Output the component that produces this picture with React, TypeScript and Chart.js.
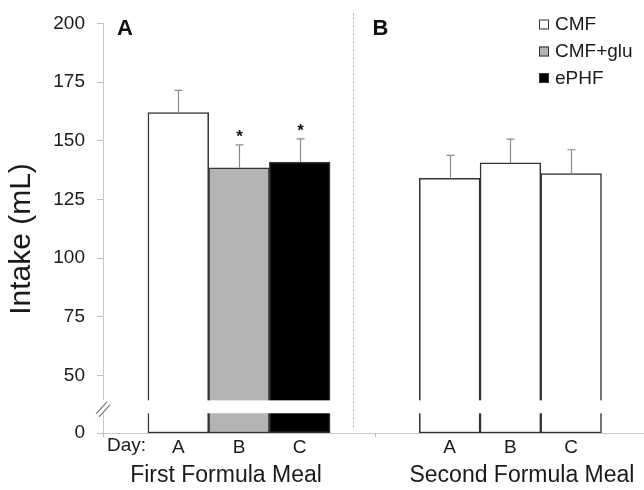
import React, { useEffect, useRef } from 'react';
import { Chart, registerables } from 'chart.js';

Chart.register(...registerables);

// ---------- data ----------
const seriesNames = ['CMF', 'CMF+glu', 'ePHF'];
const seriesColors = ['#ffffff', '#b3b3b3', '#000000'];
const dayLabels = ['A', 'B', 'C'];
const dayPrefix = 'Day:';
const mealLabels = ['First Formula Meal', 'Second Formula Meal'];
const panelLetters = ['A', 'B'];
const firstMealMeans = [162, 138.5, 141];
const firstMealSE = [9.5, 9.8, 9.8];
const firstMealSignificant = [false, true, true];
const secondMealMeans = [134, 140.6, 136.1];
const secondMealSE = [9.8, 10.1, 10.1];
const yTickValues = [0, 50, 75, 100, 125, 150, 175, 200];

// ---------- layout (scale units) ----------
const Y_ZERO = 25.6; // scale position standing in for 0 below the axis break
const BREAK_LOW = 34;
const BREAK_HIGH = 39.5;
const Y_MAX = 200;
const X_MIN = -0.24;
const X_MAX = 8.67;
const PANEL_POS = [
  [1, 2, 3],
  [5.47, 6.47, 7.47],
];
const MEAL_TITLE_POS = [1.786, 6.66];
const DIVIDER_POS = 3.87;
const AXIS_TICK_POS = [X_MIN, 4.24];
const FONT = "'Liberation Sans', Arial, Helvetica, sans-serif";

const toScale = (v: number) => (v === 0 ? Y_ZERO : v);

type BarItem = { x: number; mean: number; se: number; sig: boolean; series: number };

const barItems: BarItem[] = [
  ...firstMealMeans.map((m, i) => ({
    x: PANEL_POS[0][i],
    mean: m,
    se: firstMealSE[i],
    sig: firstMealSignificant[i],
    series: i,
  })),
  ...secondMealMeans.map((m, i) => ({
    x: PANEL_POS[1][i],
    mean: m,
    se: secondMealSE[i],
    sig: false,
    series: 0,
  })),
];

const xTickPositions = [...PANEL_POS[0], ...PANEL_POS[1]];
const xTickLabels = [...dayLabels, ...dayLabels];

const overlayPlugin = {
  id: 'overlay',
  afterDatasetsDraw(chart: any) {
    const { ctx, chartArea, scales } = chart;
    const x = scales.x;
    const y = scales.y;
    ctx.save();

    // error bars + significance marks
    barItems.forEach((b) => {
      const px = Math.round(x.getPixelForValue(b.x)) + 0.5;
      const top = y.getPixelForValue(b.mean);
      const errTop = y.getPixelForValue(b.mean + b.se);
      ctx.strokeStyle = '#8a8a8a';
      ctx.lineWidth = 1.2;
      ctx.beginPath();
      ctx.moveTo(px, top);
      ctx.lineTo(px, errTop);
      ctx.moveTo(px - 4, errTop);
      ctx.lineTo(px + 4, errTop);
      ctx.stroke();
      if (b.sig) {
        ctx.fillStyle = '#111';
        ctx.font = `bold 17px ${FONT}`;
        ctx.textAlign = 'center';
        ctx.textBaseline = 'alphabetic';
        ctx.fillText('*', px, errTop - 3);
      }
    });

    // axis break gap
    const gTop = y.getPixelForValue(BREAK_HIGH);
    const gBot = y.getPixelForValue(BREAK_LOW);
    ctx.fillStyle = '#ffffff';
    ctx.fillRect(chartArea.left - 3, gTop, chartArea.right - chartArea.left + 3, gBot - gTop);

    // break marks
    const L = chartArea.left;
    const mid = (gTop + gBot) / 2;
    ctx.strokeStyle = '#777';
    ctx.lineWidth = 1.2;
    ctx.beginPath();
    ctx.moveTo(L - 7, mid + 7);
    ctx.lineTo(L + 4, mid - 5);
    ctx.moveTo(L - 4, mid + 10);
    ctx.lineTo(L + 7, mid - 2);
    ctx.stroke();

    // dotted divider between panels
    const dx = Math.round(x.getPixelForValue(DIVIDER_POS)) + 0.5;
    ctx.strokeStyle = '#b0b0b0';
    ctx.lineWidth = 1;
    ctx.setLineDash([2, 2]);
    ctx.beginPath();
    ctx.moveTo(dx, chartArea.top - 10);
    ctx.lineTo(dx, chartArea.bottom - 5);
    ctx.stroke();
    ctx.setLineDash([]);

    // small ticks below the category axis
    ctx.strokeStyle = '#bbbbbb';
    ctx.beginPath();
    AXIS_TICK_POS.forEach((p) => {
      const tx = Math.round(x.getPixelForValue(p)) + 0.5;
      ctx.moveTo(tx, chartArea.bottom);
      ctx.lineTo(tx, chartArea.bottom + 4);
    });
    ctx.stroke();
    ctx.restore();
  },
  afterDraw(chart: any) {
    const { ctx, chartArea, scales } = chart;
    const x = scales.x;
    ctx.save();

    // y-axis title
    ctx.fillStyle = '#1a1a1a';
    ctx.font = `30px ${FONT}`;
    ctx.textAlign = 'center';
    ctx.textBaseline = 'middle';
    ctx.translate(22, 239);
    ctx.rotate(-Math.PI / 2);
    ctx.fillText('Intake (mL)', 0, 0);
    ctx.setTransform(1, 0, 0, 1, 0, 0);

    // "Day:" prefix on the category row
    ctx.font = `19px ${FONT}`;
    ctx.textAlign = 'left';
    ctx.textBaseline = 'middle';
    ctx.fillStyle = '#1a1a1a';
    ctx.fillText(dayPrefix, chartArea.left + 4, chartArea.bottom + 13);

    // panel letters
    ctx.font = `bold 22px ${FONT}`;
    ctx.textAlign = 'left';
    ctx.textBaseline = 'alphabetic';
    ctx.fillStyle = '#111';
    ctx.fillText(panelLetters[0], chartArea.left + 14, 35);
    ctx.fillText(panelLetters[1], x.getPixelForValue(DIVIDER_POS) + 20, 35);

    // group titles
    ctx.font = `23px ${FONT}`;
    ctx.textAlign = 'center';
    ctx.textBaseline = 'middle';
    ctx.fillStyle = '#1a1a1a';
    ctx.fillText(mealLabels[0], x.getPixelForValue(MEAL_TITLE_POS[0]), 476);
    ctx.fillText(mealLabels[1], x.getPixelForValue(MEAL_TITLE_POS[1]), 476);

    // legend
    const lx = 539;
    const rows = [24.5, 51.5, 78];
    seriesNames.forEach((name, i) => {
      const cy = rows[i];
      ctx.fillStyle = seriesColors[i];
      ctx.fillRect(lx, cy - 5, 10, 10);
      ctx.strokeStyle = '#333';
      ctx.lineWidth = 1;
      ctx.strokeRect(lx + 0.5, cy - 4.5, 9, 9);
      ctx.fillStyle = '#1a1a1a';
      ctx.font = `19px ${FONT}`;
      ctx.textAlign = 'left';
      ctx.textBaseline = 'middle';
      ctx.fillText(name, lx + 16, cy + 0.5);
    });
    ctx.restore();
  },
};

export default function App() {
  const canvasRef = useRef<HTMLCanvasElement | null>(null);

  useEffect(() => {
    const canvas = canvasRef.current;
    if (!canvas) return;

    const datasets = seriesNames.map((name, s) => ({
      label: name,
      data: barItems
        .filter((b) => b.series === s)
        .map((b) => ({ x: b.x, y: [Y_ZERO, b.mean] })),
      backgroundColor: seriesColors[s],
      borderColor: '#333333',
      borderWidth: 1.5,
      borderSkipped: false,
      grouped: false,
      barPercentage: 1,
      categoryPercentage: 1,
    }));

    const chart = new Chart(canvas, {
      type: 'bar',
      data: { datasets: datasets as any },
      options: {
        responsive: false,
        animation: false,
        devicePixelRatio: 1,
        layout: { padding: { top: 18, left: 0, right: 0, bottom: 0 } },
        plugins: {
          legend: { display: false },
          tooltip: { enabled: false },
          title: { display: false },
        },
        scales: {
          x: {
            type: 'linear',
            offset: false,
            min: X_MIN,
            max: X_MAX,
            afterBuildTicks: (s: any) => {
              s.ticks = xTickPositions.map((v) => ({ value: v }));
            },
            afterFit: (s: any) => {
              s.height = 57;
            },
            ticks: {
              callback: (_v: any, i: number) => xTickLabels[i],
              autoSkip: false,
              maxRotation: 0,
              padding: 3,
              color: '#1a1a1a',
              font: { size: 19, family: FONT },
            },
            grid: { drawOnChartArea: false, drawTicks: false, offset: false },
            border: { color: '#c8c8c8', width: 1 },
          },
          y: {
            type: 'linear',
            min: Y_ZERO,
            max: Y_MAX,
            afterBuildTicks: (s: any) => {
              s.ticks = yTickValues.map((v) => ({ value: toScale(v) }));
            },
            afterFit: (s: any) => {
              s.width = 103;
            },
            ticks: {
              callback: (_v: any, i: number) => String(yTickValues[i]),
              autoSkip: false,
              padding: 12,
              color: '#1a1a1a',
              font: { size: 19, family: FONT },
            },
            grid: { drawOnChartArea: false, drawTicks: true, tickLength: 6, color: '#c0c0c0' },
            border: { color: '#c8c8c8', width: 1 },
          },
        },
      } as any,
      plugins: [overlayPlugin],
    });

    return () => chart.destroy();
  }, []);

  return (
    <div style={{ position: 'absolute', left: 0, top: 0, width: 644, height: 490, background: '#fff' }}>
      <canvas ref={canvasRef} width={644} height={490} />
    </div>
  );
}
